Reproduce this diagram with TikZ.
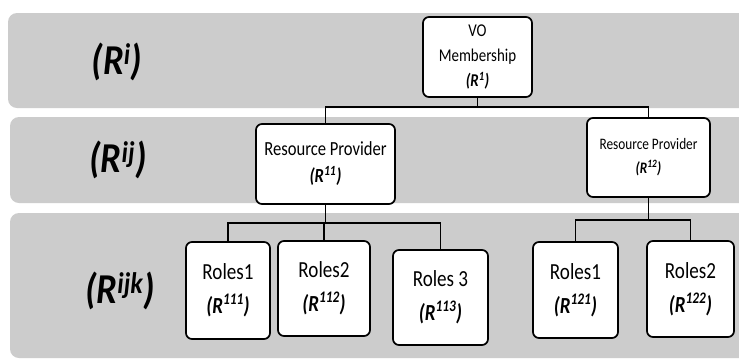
\documentclass[tikz,border=0pt]{standalone}
\usepackage{fontspec}
\setmainfont{Carlito}
\usepackage{graphicx}
\definecolor{band}{RGB}{204,204,204}
\newcommand{\hx}[1]{\scalebox{0.83}[1]{#1}}
\newcommand{\vx}[1]{\scalebox{1}[1.15]{#1}}
\newcommand{\rr}[1]{\textbf{\textit{(R\textsuperscript{#1})}}}
\begin{document}
\begin{tikzpicture}[x=1pt,y=-1pt,
  bandbox/.style={fill=band, rounded corners=9pt},
  box/.style={draw, line width=1.7pt, rounded corners=6pt, fill=white, align=center, inner sep=0pt},
  link/.style={line width=1.7pt},
  lvl/.style={font={\fontsize{37}{40}\selectfont\bfseries\itshape}, inner sep=0pt},
  vofont/.style={font={\fontsize{18}{25}\selectfont}},
  rpa/.style={font={\fontsize{20}{27}\selectfont}},
  rpb/.style={font={\fontsize{16}{24}\selectfont}},
  rolefont/.style={font={\fontsize{23}{34}\selectfont}}]
\clip (0,0) rectangle (739,360);
\fill[white] (0,0) rectangle (739,360);
\fill[bandbox] (8,13) rectangle (770,108);
\fill[bandbox] (10,117) rectangle (770,203);
\fill[bandbox] (10,213) rectangle (770,358);

\node[lvl] (l1) at (117,62) {\vx{(R\textsuperscript{i})}};
\node[lvl] (l2) at (118,160) {\vx{(R\textsuperscript{ij})}};
\node[lvl] (l3) at (120,291) {\vx{(R\textsuperscript{ijk})}};

\node[box, vofont, minimum width=109pt, minimum height=80pt] (vo) at (477.5,57) {\hx{VO}\\\hx{Membership}\\\hx{\rr{1}}};
\node[box, rpa, minimum width=139pt, minimum height=80pt] (rp1) at (325.5,164) {\hx{Resource Provider}\\\hx{\rr{11}}};
\node[box, rpb, minimum width=123pt, minimum height=79pt] (rp2) at (648.5,157.5) {\hx{Resource Provider}\\\hx{\rr{12}}};

\node[box, rolefont, minimum width=84pt, minimum height=97pt] (r111) at (228,290.5) {\hx{Roles1}\\\hx{\rr{111}}};
\node[box, rolefont, minimum width=92pt, minimum height=95pt] (r112) at (324,288.5) {\hx{Roles2}\\\hx{\rr{112}}};
\node[box, rolefont, minimum width=95pt, minimum height=95pt] (r113) at (440.5,297.5) {\hx{Roles 3}\\\hx{\rr{113}}};
\node[box, rolefont, minimum width=85pt, minimum height=96pt] (r121) at (575.5,290) {\hx{Roles1}\\\hx{\rr{121}}};
\node[box, rolefont, minimum width=87pt, minimum height=96pt] (r122) at (690.5,289) {\hx{Roles2}\\\hx{\rr{122}}};

\coordinate (j1) at (477.5,107);
\coordinate (j2) at (325.5,223);
\coordinate (j3) at (648.5,220);
\draw[link] (vo.south) -- (j1);
\draw[link] (rp1.north) |- (j1) -| (rp2.north);
\draw[link] (rp1.south) -- (j2);
\draw[link] (r111.north) |- (j2) -| (r113.north);
\draw[link] (r112.north) -- (r112.north |- j2);
\draw[link] (rp2.south) -- (j3);
\draw[link] (r121.north) |- (j3) -| (r122.north);
\end{tikzpicture}
\end{document}
